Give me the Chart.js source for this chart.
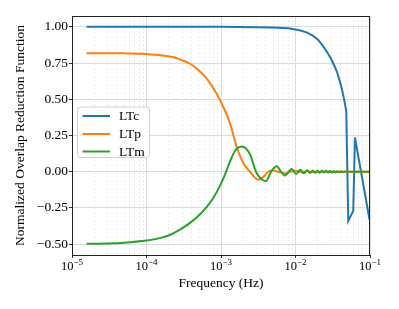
<!DOCTYPE html>
<html lang="en">
<head>
  <meta charset="UTF-8">
  <title>Normalized Overlap Reduction Function</title>
  <script src="https://cdn.jsdelivr.net/npm/chart.js"></script>
  <style>
    body { margin: 0; background: #fff; }
    canvas { display: block; }
  </style>
</head>
<body>
  <canvas id="grafico" width="399" height="309"></canvas>

  <script>
    // values
    const freqC = [1.57e-5, 1e-4, 1e-3, 3e-3, 5e-3, 8e-3, 0.0113, 0.0141, 0.0170, 0.0202, 0.0236,
      0.0270, 0.0300, 0.0330, 0.0360, 0.0396, 0.0420, 0.0445, 0.0463, 0.0480,
      0.0511, 0.0596, 0.0628, 0.0985];
    const valC = [1.0, 1.0, 1.0, 0.998, 0.995, 0.99, 0.977, 0.962, 0.94, 0.91, 0.865,
      0.82, 0.78, 0.735, 0.69, 0.62, 0.57, 0.51, 0.465, 0.415,
      -0.34, -0.27, 0.236, -0.33];

    const freqP = [1.57e-5, 3e-5, 5e-5, 8.2e-5, 1.5e-4, 2.3e-4, 3e-4, 3.8e-4, 5e-4, 6.4e-4, 8.7e-4,
      1.07e-3, 1.32e-3, 1.62e-3, 1.99e-3, 2.45e-3, 3.17e-3, 3.8e-3, 4.3e-3, 4.9e-3,
      5.8e-3, 7.3e-3, 8.5e-3, 0.01, 0.012, 0.014, 0.017, 0.02, 0.05, 0.0985];
    const valP = [0.818, 0.818, 0.817, 0.815, 0.805, 0.79, 0.77, 0.747, 0.70, 0.644, 0.54,
      0.449, 0.335, 0.174, 0.06, 0.0, -0.055, -0.03, 0.0, 0.01,
      0.0, -0.012, 0.0, 0.006, -0.004, 0.003, -0.002, 0.0, 0.0, 0.0];

    const freqM = [1.57e-5, 3e-5, 5e-5, 1e-4, 1.6e-4, 2.2e-4, 2.8e-4, 3.8e-4, 5.2e-4, 6.4e-4, 7.9e-4,
      9.2e-4, 1.07e-3, 1.2e-3, 1.32e-3, 1.47e-3, 1.62e-3, 1.9e-3, 2.45e-3, 2.95e-3, 3.4e-3,
      4.0e-3, 4.7e-3, 5.6e-3, 6.4e-3, 7.2e-3, 8.9e-3, 0.0102, 0.0116, 0.0130, 0.0144,
      0.0157, 0.0170, 0.0183, 0.0197, 0.0211, 0.0226, 0.0241, 0.0257, 0.0273, 0.0290,
      0.0308, 0.0327, 0.0346, 0.0366, 0.0387, 0.0410, 0.0433, 0.0460, 0.05, 0.0985];
    const valM = [-0.497, -0.495, -0.49, -0.475, -0.455, -0.43, -0.40, -0.355, -0.295, -0.245, -0.18,
      -0.12, -0.05, 0.015, 0.07, 0.125, 0.158, 0.174, 0.12, 0.0, -0.045,
      -0.065, 0.0, 0.037, 0.0, -0.027, 0.019, -0.015, 0.013, -0.011, 0.010,
      -0.009, 0.008, -0.008, 0.007, -0.007, 0.006, -0.006, 0.006, -0.005, 0.005,
      -0.005, 0.004, -0.004, 0.004, -0.003, 0.003, -0.003, 0.002, 0.0, 0.0];

    const seriesNames = ['LTc', 'LTp', 'LTm'];
    const seriesColors = ['#1f77b4', '#ff7f0e', '#2ca02c'];
    const decadeTicks = [1e-5, 1e-4, 1e-3, 1e-2, 1e-1];
    const decadeExp = ['\u22125', '\u22124', '\u22123', '\u22122', '\u22121'];
    const yTicks = [-0.5, -0.25, 0, 0.25, 0.5, 0.75, 1.0];

    const serif = "'Liberation Serif', 'Times New Roman', serif";

    function puntos(fs, vs) {
      return fs.map((f, i) => ({ x: f, y: vs[i] }));
    }

    const minorTicks = [];
    for (let e = -5; e < -1; e++) {
      for (let m = 2; m <= 9; m++) minorTicks.push(m * Math.pow(10, e));
    }

    // tick labels 10^n with real superscripts, frame and legend
    const extras = {
      id: 'extras',
      afterDraw(chart) {
        const c = chart.ctx;
        const area = chart.chartArea;
        const xs = chart.scales.x;

        c.save();
        c.fillStyle = '#000';
        c.textBaseline = 'alphabetic';
        decadeTicks.forEach((v, i) => {
          const px = xs.getPixelForValue(v);
          c.font = '12.5px ' + serif;
          const w1 = c.measureText('10').width;
          c.font = '9px ' + serif;
          const w2 = c.measureText(decadeExp[i]).width;
          const start = px - (w1 + w2) / 2;
          c.font = '12.5px ' + serif;
          c.textAlign = 'left';
          c.fillText('10', start, 270);
          c.font = '9px ' + serif;
          c.fillText(decadeExp[i], start + w1, 264.5);
        });

        // frame
        c.strokeStyle = '#222';
        c.lineWidth = 1;
        c.strokeRect(Math.round(area.left) + 0.5, Math.round(area.top) + 0.5,
          Math.round(area.right - area.left) - 1, Math.round(area.bottom - area.top));

        // legend
        const bx = 77.5, by = 107, bw = 72, bh = 50.5;
        c.beginPath();
        c.roundRect(bx, by, bw, bh, 3);
        c.fillStyle = 'rgba(255,255,255,0.85)';
        c.fill();
        c.strokeStyle = '#d0d0d0';
        c.stroke();
        const rows = [116, 134, 151.5];
        chart.data.datasets.forEach((ds, i) => {
          c.beginPath();
          c.moveTo(82.5, rows[i]);
          c.lineTo(110, rows[i]);
          c.strokeStyle = ds.borderColor;
          c.lineWidth = 2;
          c.stroke();
          c.fillStyle = '#000';
          c.font = '13.5px ' + serif;
          c.textAlign = 'left';
          c.textBaseline = 'middle';
          c.fillText(ds.label, 119, rows[i] + 0.5);
        });
        c.restore();
      }
    };

    const datos = {
      datasets: [
        { label: seriesNames[0], data: puntos(freqC, valC), borderColor: seriesColors[0], order: 2, tension: 0 },
        { label: seriesNames[1], data: puntos(freqP, valP), borderColor: seriesColors[1], order: 1, cubicInterpolationMode: 'monotone' },
        { label: seriesNames[2], data: puntos(freqM, valM), borderColor: seriesColors[2], order: 0, cubicInterpolationMode: 'monotone' }
      ]
    };
    datos.datasets.forEach(ds => {
      ds.borderWidth = 2;
      ds.pointRadius = 0;
      ds.fill = false;
    });

    const opciones = {
      responsive: false,
      animation: false,
      layout: { padding: { top: 16, right: 29, left: 0, bottom: 0 } },
      plugins: {
        legend: { display: false },
        tooltip: { enabled: false }
      },
      scales: {
        x: {
          type: 'logarithmic',
          position: 'bottom',
          min: 1e-5,
          max: 1e-1,
          afterBuildTicks: s => { s.ticks = decadeTicks.map(v => ({ value: v })); },
          afterFit: s => { s.height = 54; },
          ticks: { callback: () => '', maxRotation: 0, autoSkip: false },
          grid: { color: '#dcdcdc', lineWidth: 1, tickLength: 3, tickColor: '#333' },
          border: { display: false },
          title: {
            display: true,
            text: 'Frequency (Hz)',
            color: '#000',
            font: { family: serif, size: 13.5 },
            padding: { top: 0, bottom: 17.5 }
          }
        },
        x2: {
          type: 'logarithmic',
          position: 'bottom',
          min: 1e-5,
          max: 1e-1,
          afterBuildTicks: s => { s.ticks = minorTicks.map(v => ({ value: v })); },
          afterFit: s => { s.height = 0; },
          ticks: { display: false },
          grid: { color: '#ececec', lineWidth: 1, tickLength: 2, tickColor: '#555' },
          border: { display: false, dash: [2, 2] }
        },
        y: {
          type: 'linear',
          min: -0.575,
          max: 1.075,
          afterBuildTicks: s => { s.ticks = yTicks.map(v => ({ value: v })); },
          afterFit: s => { s.width = 72; },
          ticks: {
            color: '#000',
            padding: 1,
            font: { family: serif, size: 13.5 },
            callback: v => (v < 0 ? '\u2212' : '') + Math.abs(v).toFixed(2)
          },
          grid: { color: '#dcdcdc', lineWidth: 1, tickLength: 3, tickColor: '#333' },
          border: { display: false },
          title: {
            display: true,
            text: 'Normalized Overlap Reduction Function',
            color: '#000',
            font: { family: serif, size: 13.5 },
            padding: { top: 12, bottom: 0 }
          }
        }
      }
    };

    const chart = new Chart(document.getElementById('grafico').getContext('2d'), {
      type: 'line',
      data: datos,
      options: opciones,
      plugins: [extras]
    });
  </script>
</body>
</html>
